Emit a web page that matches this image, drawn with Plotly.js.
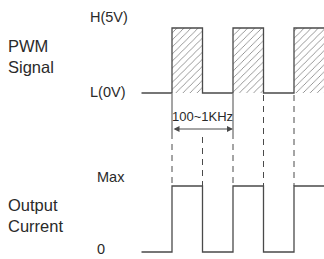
<!DOCTYPE html>
<html>
<head>
<meta charset="utf-8">
<script src="https://cdn.plot.ly/plotly-3.0.1.min.js"></script>
<style>html,body{margin:0;padding:0;background:#fff;}#chart{width:324px;height:259px;}</style>
</head>
<body>
<div id="chart"></div>
<script>
// Time in half-periods; transitions happen at 0..4
const time = [-1, 0, 1, 2, 3, 4, 5];
const pwmState = [0, 1, 0, 1, 0, 1];      // per interval: 0 = L(0V), 1 = H(5V)
const currentState = [0, 1, 0, 1, 0, 1];  // per interval: 0 = 0, 1 = Max
const pwmLabels = ["H(5V)", "L(0V)"];
const currentLabels = ["Max", "0"];
const freqLabel = "100~1KHz";
const rowTitles = [["PWM", "Signal"], ["Output", "Current"]];

const lineColor = "#4a4a4a";
const textColor = "#2a2a2a";
const FONT = "Liberation Sans, Arial, sans-serif";

const traces = [];
// hatched high pulses of PWM
for (let i = 0; i < pwmState.length; i++) {
  if (pwmState[i] === 1) {
    traces.push({
      x: [time[i], time[i], time[i + 1], time[i + 1]],
      y: [0, 1, 1, 0],
      xaxis: "x", yaxis: "y",
      mode: "lines", fill: "toself",
      line: {width: 0, color: "rgba(0,0,0,0)"},
      fillcolor: "#ffffff",
      fillpattern: {shape: "/", size: 5, solidity: 0.12, fgcolor: "#555", bgcolor: "#fff", fillmode: "replace"},
      hoverinfo: "skip", showlegend: false
    });
  }
}
// PWM step line
traces.push({
  x: time, y: pwmState.concat([pwmState[pwmState.length - 1]]),
  xaxis: "x", yaxis: "y", mode: "lines",
  line: {shape: "hv", color: lineColor, width: 1.3},
  hoverinfo: "skip", showlegend: false
});
// Current step line
traces.push({
  x: time, y: currentState.concat([currentState[currentState.length - 1]]),
  xaxis: "x", yaxis: "y2", mode: "lines",
  line: {shape: "hv", color: lineColor, width: 1.3},
  hoverinfo: "skip", showlegend: false
});

const W = 324, H = 259;
const py = p => 1 - p / H; // pixel row -> paper y
const shapes = [];
const edges = time.slice(1, time.length - 1);
edges.forEach((e) => {
  const bracket = (e === 0 || e === 2);
  const mid = (e === 1);
  if (bracket) {
    shapes.push({type: "line", xref: "x", yref: "paper", x0: e, x1: e, y0: py(94), y1: py(133),
      line: {color: lineColor, width: 1}});
  }
  const top = bracket ? 133 : (mid ? 137 : 95);
  shapes.push({type: "line", xref: "x", yref: "paper", x0: e, x1: e, y0: py(top), y1: py(186),
    line: {color: lineColor, width: 1, dash: "6px,5px"}});
});

function label(x, yPx, text, size, xanchor) {
  return {xref: "paper", yref: "paper", x: x / W, y: py(yPx), text: text, showarrow: false, borderpad: 0,
          align: "left", font: {family: FONT, size: size, color: textColor},
          xanchor: xanchor || "left", yanchor: "middle"};
}

const annotations = [
  {xref: "x", yref: "paper", x: 2, y: py(129), ax: 0, ay: py(129), axref: "x", ayref: "paper",
   showarrow: true, arrowhead: 2, startarrowhead: 2, arrowside: "end+start", arrowsize: 1.2, arrowwidth: 1,
   arrowcolor: lineColor, text: ""},
  {xref: "x", yref: "paper", x: 1, y: py(116), text: freqLabel, showarrow: false, borderpad: 0,
   font: {family: FONT, size: 13, color: textColor}, xanchor: "center", yanchor: "middle"},
  label(89, 17, pwmLabels[0], 14.5),
  label(89, 92, pwmLabels[1], 14.5),
  label(96, 177, currentLabels[0], 14.5),
  label(96, 249, currentLabels[1], 14.5),
  label(7, 56, rowTitles[0].join("<br>"), 16.5),
  label(7, 215, rowTitles[1].join("<br>"), 16.5)
];

// axis scaling: 30.5 px per half-period, t=-1 at px 141.5
const xs = 30.5, x0px = 141.5;
const xr0 = -1 - x0px / xs;
const layout = {
  width: W, height: H,
  margin: {l: 0, r: 0, t: 0, b: 0, pad: 0},
  paper_bgcolor: "#fff", plot_bgcolor: "#fff",
  xaxis: {range: [xr0, xr0 + W / xs], visible: false, fixedrange: true},
  // PWM: level 0 at px 93, level 1 at px 28
  yaxis: {range: [-(H - 93) / 65, -(H - 93) / 65 + H / 65], visible: false, fixedrange: true, domain: [0, 1]},
  // Current: level 0 at px 252, level 1 at px 186
  yaxis2: {range: [-(H - 252) / 66, -(H - 252) / 66 + H / 66], visible: false, fixedrange: true,
           overlaying: "y", domain: [0, 1]},
  shapes: shapes,
  annotations: annotations,
  showlegend: false
};

Plotly.newPlot("chart", traces, layout, {displayModeBar: false, staticPlot: true});
</script>
</body>
</html>
